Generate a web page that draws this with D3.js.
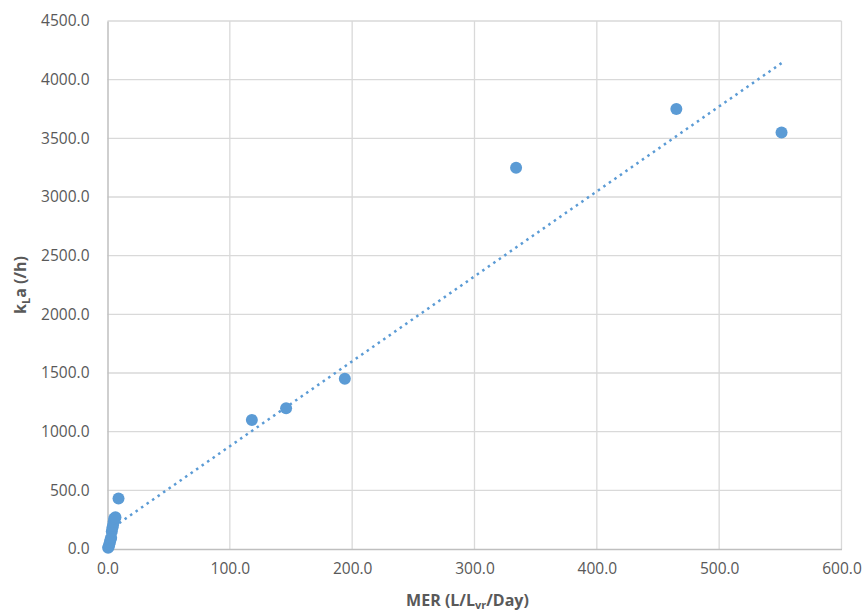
<!DOCTYPE html>
<html><head><meta charset="utf-8">
<script src="https://cdn.jsdelivr.net/npm/d3@7"></script>
<style>body{margin:0;background:#fff}</style>
</head><body>
<svg id="c" width="863" height="614"></svg>
<script>
const merValues = [0.5, 1, 1.5, 2, 2.5, 3, 3.5, 4, 4.5, 5, 5.5, 6.5, 9, 118, 146, 194, 334, 465, 551];
const klaValues = [10, 20, 40, 60, 80, 95, 150, 180, 200, 230, 260, 270, 430, 1100, 1200, 1450, 3250, 3750, 3550];
const xTicks = [0, 100, 200, 300, 400, 500, 600];
const yTicks = [0, 500, 1000, 1500, 2000, 2500, 3000, 3500, 4000, 4500];

const svg = d3.select("#c");
const L = 107.5, R = 841.5, T = 21, B = 549;
const x = d3.scaleLinear().domain([0, 600]).range([L, R]);
const y = d3.scaleLinear().domain([0, 4500]).range([B, T]);
const font = "'Open Sans', sans-serif";
const grey = "#595959";

// gridlines
svg.append("g").selectAll("line.v").data(xTicks.slice(1)).join("line")
  .attr("x1", d => x(d)).attr("x2", d => x(d)).attr("y1", T).attr("y2", B)
  .attr("stroke", "#d9d9d9").attr("stroke-width", 1.3);
svg.append("g").selectAll("line.h").data(yTicks.slice(1)).join("line")
  .attr("x1", L).attr("x2", R).attr("y1", d => y(d)).attr("y2", d => y(d))
  .attr("stroke", "#d9d9d9").attr("stroke-width", 1.3);

// axes
const xAxis = svg.append("g").attr("transform", `translate(0,${B})`)
  .call(d3.axisBottom(x).tickValues(xTicks).tickFormat(d3.format(".1f")).tickSize(0).tickPadding(14));
const yAxis = svg.append("g").attr("transform", `translate(${L},0)`)
  .call(d3.axisLeft(y).tickValues(yTicks).tickFormat(d3.format(".1f")).tickSize(0).tickPadding(18));
[xAxis, yAxis].forEach(a => {
  a.select(".domain").attr("stroke", "#bfbfbf").attr("stroke-width", 1.5);
  a.selectAll("text").attr("fill", grey).style("font-family", font).style("font-size", "15.5px");
});

// trendline (least squares)
const n = merValues.length;
const mx = d3.mean(merValues), my = d3.mean(klaValues);
let sxy = 0, sxx = 0;
for (let i = 0; i < n; i++) { sxy += (merValues[i]-mx)*(klaValues[i]-my); sxx += (merValues[i]-mx)**2; }
const slope = sxy / sxx, icpt = my - slope * mx;
const x0 = d3.min(merValues), x1 = d3.max(merValues);
svg.append("line")
  .attr("x1", x(x0)).attr("y1", y(icpt + slope*x0))
  .attr("x2", x(x1)).attr("y2", y(icpt + slope*x1))
  .attr("stroke", "#5B9BD5").attr("stroke-width", 2.5)
  .attr("stroke-dasharray", "2.5,4.2");

// points
svg.append("g").selectAll("circle").data(merValues.map((d, i) => [d, klaValues[i]])).join("circle")
  .attr("cx", d => x(d[0])).attr("cy", d => y(d[1])).attr("r", 6)
  .attr("fill", "#5B9BD5");

// axis titles
const xt = svg.append("text").attr("x", (L+R)/2 - 7).attr("y", 606).attr("text-anchor", "middle")
  .attr("fill", grey).style("font-family", font).style("font-size", "16px").style("font-weight", "bold");
xt.append("tspan").text("MER (L/L");
xt.append("tspan").attr("dy", 3).style("font-size", "11px").text("vr");
xt.append("tspan").attr("dy", -3).text("/Day)");

const yt = svg.append("text").attr("transform", `translate(26,${(T+B)/2}) rotate(-90)`).attr("text-anchor", "middle")
  .attr("fill", grey).style("font-family", font).style("font-size", "16px").style("font-weight", "bold");
yt.append("tspan").text("k");
yt.append("tspan").attr("dy", 4).style("font-size", "11px").text("L");
yt.append("tspan").attr("dy", -4).text("a (/h)");
</script>
</body></html>
